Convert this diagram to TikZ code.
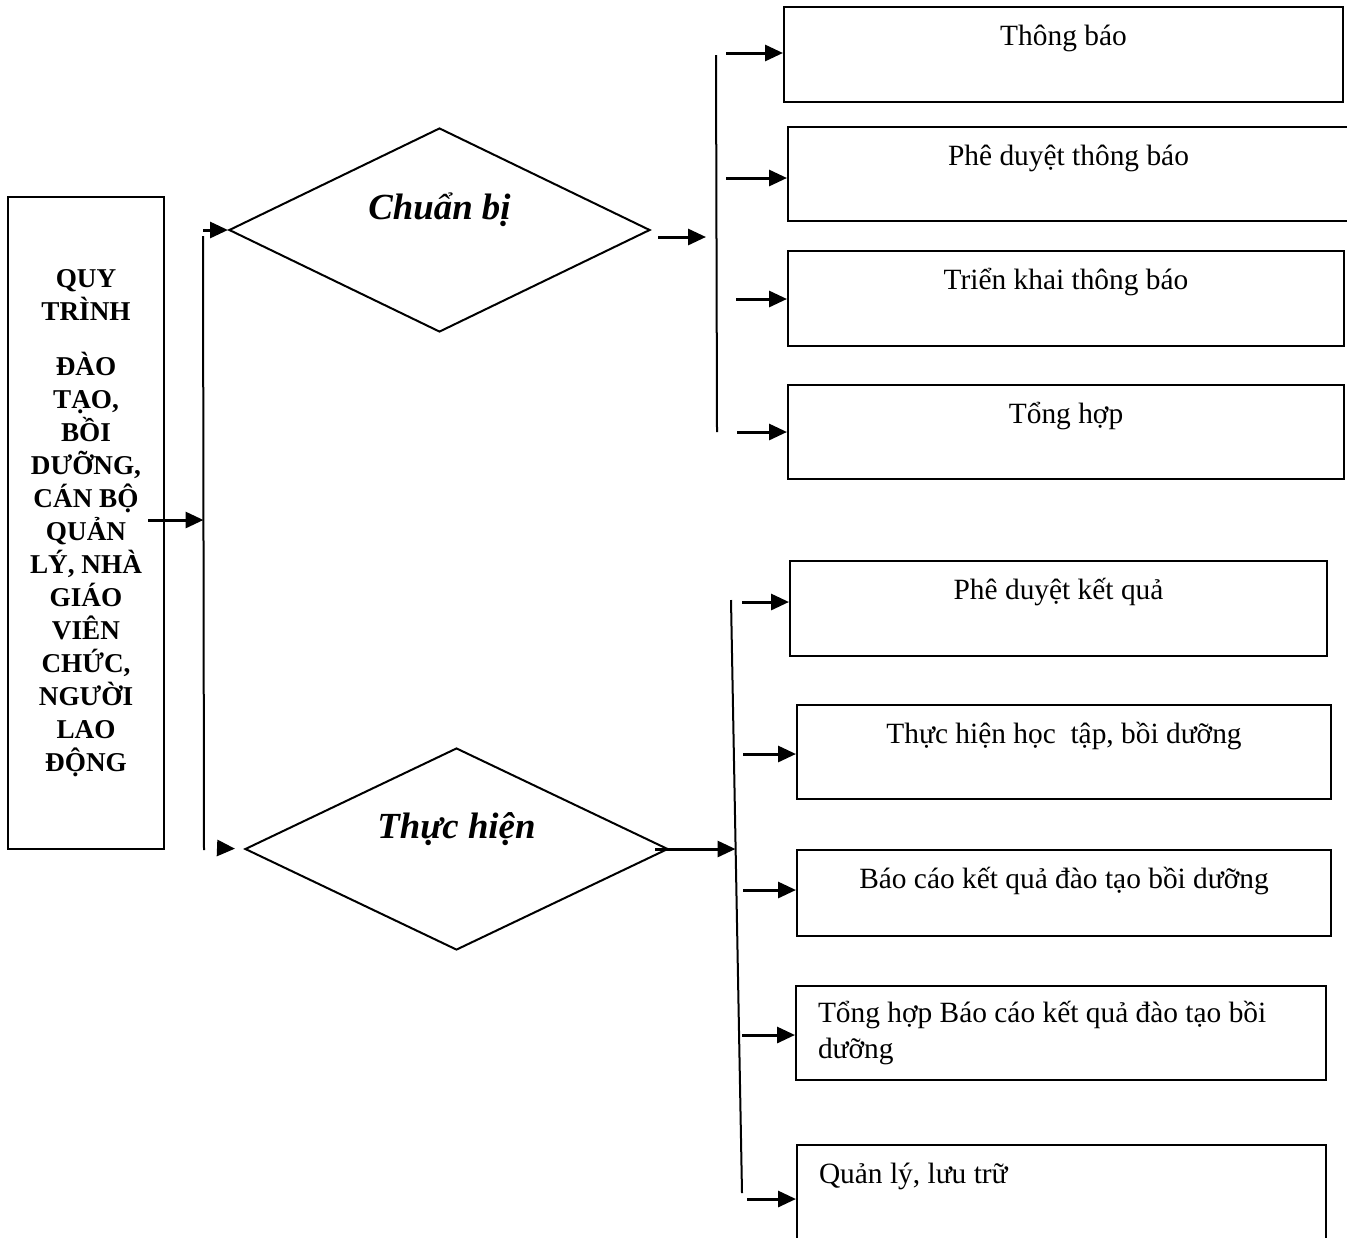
\documentclass[tikz,border=0pt]{standalone}
\usepackage{fontspec}
\setmainfont{Liberation Serif}
\usetikzlibrary{arrows.meta,shapes.geometric}
\newcommand{\boxfont}{\fontsize{14.7}{17.5}\selectfont}
\newcommand{\procfont}{\fontsize{13.6}{16.5}\selectfont\bfseries}
\newcommand{\phasefont}{\fontsize{18.4}{22}\selectfont\bfseries\itshape}

\begin{document}
\begin{tikzpicture}[x=0.5pt,y=-0.5pt,line width=1pt,
  stepbox/.style={draw,inner sep=0pt,text height=19pt,font=\boxfont},
  phase/.style={draw,diamond,aspect=2,inner sep=0pt,text height=13pt,text depth=24pt,font=\phasefont},
  arr/.style={-{Triangle[length=9pt,width=8pt]},line width=1.5pt}]
  \useasboundingbox (0,0) rectangle (1347,1237);
  \clip (0,0) rectangle (1347,1237);

  % process box and the two phases
  \node[draw,minimum width=78pt,minimum height=326pt,align=center,font=\procfont] (proc) at (86,523)
    {QUY\\TRÌNH\\[11pt]ĐÀO\\TẠO,\\BỒI\\DƯỠNG,\\CÁN BỘ\\QUẢN\\LÝ, NHÀ\\GIÁO\\VIÊN\\CHỨC,\\NGƯỜI\\LAO\\ĐỘNG};
  \node[phase,minimum width=210.5pt,minimum height=102pt] (chuanbi) at (439.5,230) {Chuẩn bị};
  \node[phase,minimum width=211.5pt,minimum height=101pt] (thuchien) at (456.5,849) {Thực hiện};

  % steps of Chuẩn bị
  \node[stepbox,minimum width=279.5pt,text depth=28.5pt] (tb1) at (1063.5,54.5) {Thông báo};
  \node[stepbox,minimum width=280.5pt,text depth=28pt] (tb2) at (1068.5,174) {Phê duyệt thông báo};
  \node[stepbox,minimum width=278pt,text depth=28.5pt] (tb3) at (1066,298.5) {Triển khai thông báo};
  \node[stepbox,minimum width=278pt,text depth=28pt] (tb4) at (1066,432) {Tổng hợp};

  % steps of Thực hiện
  \node[stepbox,minimum width=268.5pt,text depth=28.5pt] (b1) at (1058.5,608.5) {Phê duyệt kết quả};
  \node[stepbox,minimum width=267pt,text depth=28pt] (b2) at (1064,752) {Thực hiện học\ \ tập, bồi dưỡng};
  \node[stepbox,minimum width=267pt,text depth=24pt] (b3) at (1064,893) {Báo cáo kết quả đào tạo bồi dưỡng};
  \node[draw,inner xsep=11pt,inner ysep=0pt,text width=243pt,minimum height=47pt,align=left,font=\boxfont] (b4) at (1061,1033)
    {\spaceskip=0pt Tổng hợp Báo cáo kết quả đào tạo bồi\\dưỡng};
  \node[stepbox,inner xsep=11pt,text width=242.5pt,align=left,text depth=41pt] (b5) at (1061.5,1205) {\spaceskip=0pt Quản lý, lưu trữ};

  % left bus
  \coordinate (lbus top) at (203,236);
  \coordinate (lbus bot) at (204,850);
  \coordinate (lbus mid) at (203.5,520);
  \coordinate (proc out) at (148,520);
  \coordinate (cb in) at (203,230);
  \coordinate (th in) at (218,848);
  \draw (lbus top) -- (lbus bot);
  \draw[arr] (proc out) -- (lbus mid);
  \draw[arr] (cb in) -- (chuanbi.west);
  \draw[arr,shorten >=4.5pt] (th in) -- (thuchien.west);

  % upper bus
  \coordinate (tbus top) at (716,55);
  \coordinate (tbus bot) at (717,432);
  \coordinate (cb out) at (658,237);
  \coordinate (cb tip) at (706,237);
  \draw (tbus top) -- (tbus bot);
  \draw[arr] (cb out) -- (cb tip);
  \foreach \b/\x/\y in {tb1/726/53,tb2/726/178,tb3/736/299,tb4/737/432}{
    \coordinate (\b in) at (\x,\y);
    \draw[arr] (\b in) -- (\b in -| \b.west);
  }

  % lower bus
  \coordinate (bbus top) at (731,600);
  \coordinate (bbus bot) at (742,1193);
  \coordinate (bbus mid) at (735.5,849);
  \draw (bbus top) -- (bbus bot);
  \draw[arr] ([xshift=-7pt]thuchien.east) -- (bbus mid);
  \foreach \b/\x/\y in {b1/742/602,b2/743/754,b3/743/890,b4/742/1035,b5/747/1199}{
    \coordinate (\b in) at (\x,\y);
    \draw[arr] (\b in) -- (\b in -| \b.west);
  }
\end{tikzpicture}
\end{document}
